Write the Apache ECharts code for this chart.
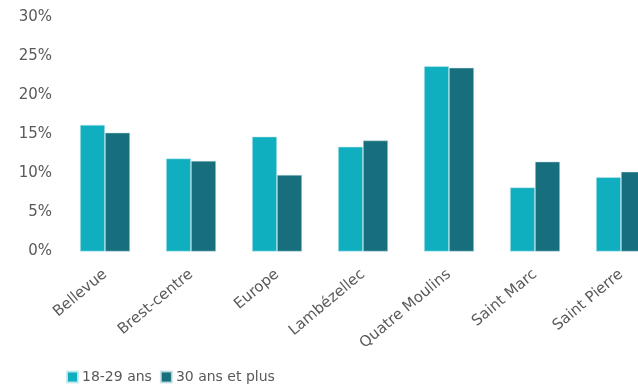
<!DOCTYPE html>
<html><head><meta charset="utf-8">
<script src="https://cdn.jsdelivr.net/npm/echarts@6/dist/echarts.min.js"></script>
<style>html,body{margin:0;padding:0;background:#fff}#c{width:638px;height:387px}</style>
</head><body><div id="c"></div>
<script>
const categories = ['Bellevue','Brest-centre','Europe','Lambézellec','Quatre Moulins','Saint Marc','Saint Pierre'];
const seriesNames = ['18-29 ans','30 ans et plus'];
const young = [16.2, 11.9, 14.7, 13.4, 23.7, 8.2, 9.5];
const older = [15.2, 11.6, 9.8, 14.2, 23.5, 11.5, 10.2];
const yTicks = [0,5,10,15,20,25,30];

const font = 'DejaVu Sans';
const chart = echarts.init(document.getElementById('c'));
chart.setOption({
  animation:false,
  grid:{left:62, width:602, top:17, height:234.5, containLabel:false, outerBoundsMode:'none'},
  legend:{left:61, top:365, itemWidth:11, itemHeight:11, itemGap:8,
    icon:'rect', textStyle:{fontFamily:font, fontSize:14, color:'#595959', padding:[0,0,0,-1]},
    data:seriesNames},
  xAxis:{type:'category', data:categories,
    axisLine:{show:false}, axisTick:{show:false},
    axisLabel:{rotate:40, interval:0, margin:21, fontFamily:font, fontSize:15, color:'#595959'}},
  yAxis:{type:'value', min:yTicks[0], max:yTicks[yTicks.length-1], interval:5,
    splitLine:{show:false}, axisLine:{show:false}, axisTick:{show:false},
    axisLabel:{formatter:v=>v+'%', fontFamily:font, fontSize:15, color:'#595959', margin:10}},
  series:[
    {name:seriesNames[0], type:'bar', data:young, barWidth:25, barGap:'0%',
     itemStyle:{color:'#10AFC0', borderColor:'rgba(200,235,240,0.9)', borderWidth:0.6}},
    {name:seriesNames[1], type:'bar', data:older, barWidth:25, barGap:'0%',
     itemStyle:{color:'#176F7D', borderColor:'rgba(200,225,230,0.8)', borderWidth:0.6}}
  ]
});
</script></body></html>
